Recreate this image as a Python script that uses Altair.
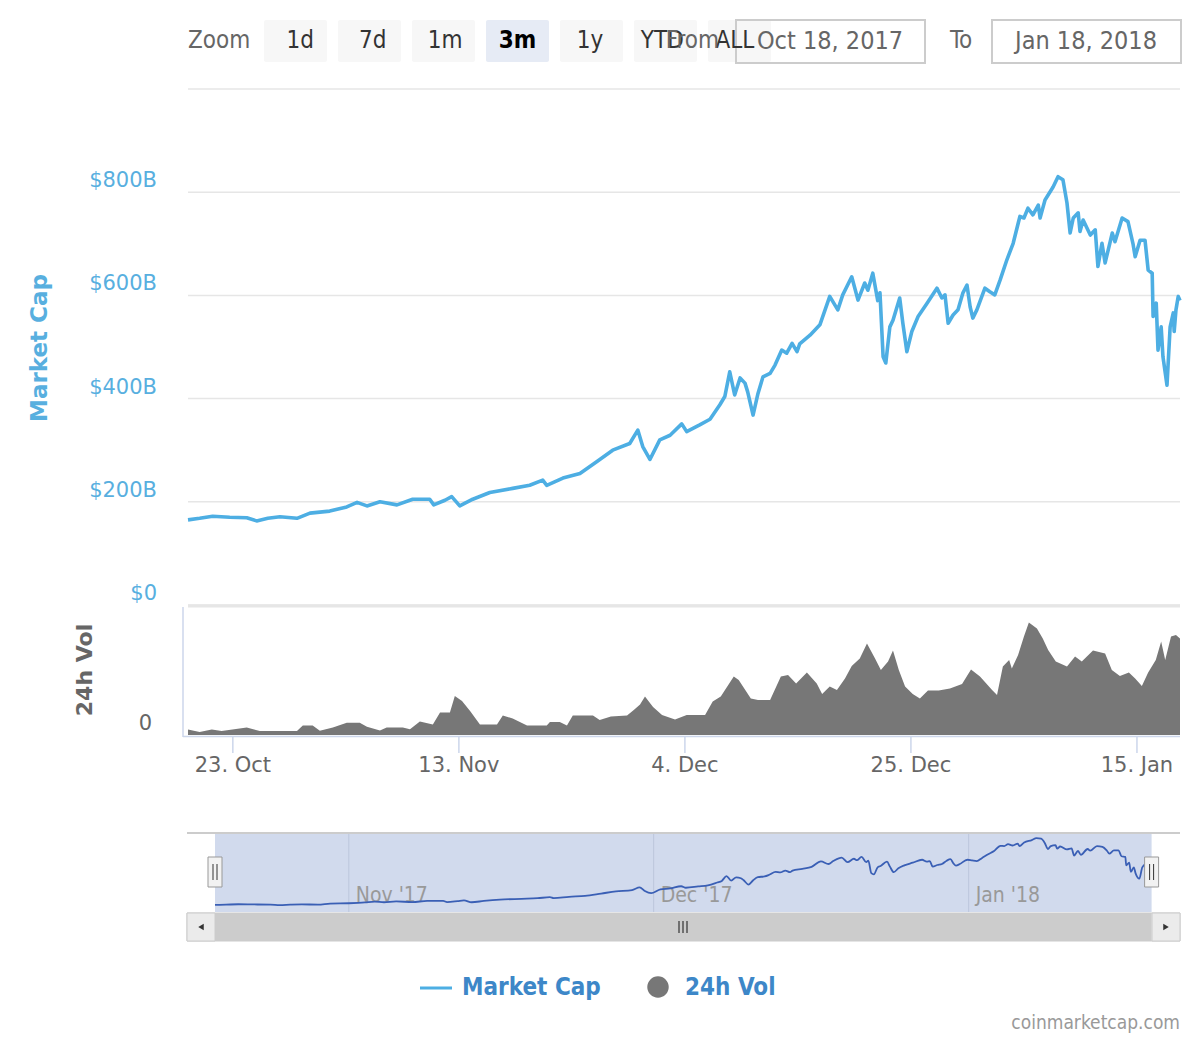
import altair as alt
import pandas as pd

# ------------------------------------------------------------------ data
MC_TIME = [
    "2017-10-18 20:00", "2017-10-19 22:00", "2017-10-21 03:00", "2017-10-22 17:00", "2017-10-24 07:00",
    "2017-10-25 05:00", "2017-10-26 06:00", "2017-10-27 09:00", "2017-10-28 23:00", "2017-10-30 04:00",
    "2017-11-01 00:00", "2017-11-02 14:00", "2017-11-03 13:00", "2017-11-04 11:00", "2017-11-05 16:00",
    "2017-11-07 06:00", "2017-11-08 17:00", "2017-11-10 07:00", "2017-11-10 16:00", "2017-11-11 17:00",
    "2017-11-12 08:00", "2017-11-13 02:00", "2017-11-14 07:00", "2017-11-15 21:00", "2017-11-18 00:00",
    "2017-11-19 14:00", "2017-11-20 19:00", "2017-11-21 04:00", "2017-11-22 16:00", "2017-11-24 06:00",
    "2017-11-25 20:00", "2017-11-27 07:00", "2017-11-28 21:00", "2017-11-29 15:00", "2017-11-30 02:00",
    "2017-11-30 18:00", "2017-12-01 16:00", "2017-12-02 15:00", "2017-12-03 17:00", "2017-12-04 04:00",
    "2017-12-05 09:00", "2017-12-06 08:00", "2017-12-07 06:00", "2017-12-07 17:00", "2017-12-08 04:00",
    "2017-12-08 15:00", "2017-12-09 03:00", "2017-12-09 14:00", "2017-12-09 20:00", "2017-12-10 08:00",
    "2017-12-10 19:00", "2017-12-11 06:00", "2017-12-11 22:00", "2017-12-12 09:00", "2017-12-13 00:00",
    "2017-12-13 11:00", "2017-12-13 23:00", "2017-12-14 10:00", "2017-12-14 16:00", "2017-12-15 15:00",
    "2017-12-16 13:00", "2017-12-17 11:00", "2017-12-18 05:00", "2017-12-18 16:00", "2017-12-19 12:00",
    "2017-12-20 02:00", "2017-12-20 17:00", "2017-12-21 00:00", "2017-12-21 11:00", "2017-12-21 22:00",
    "2017-12-22 03:00", "2017-12-22 10:00", "2017-12-22 16:00", "2017-12-23 01:00", "2017-12-23 08:00",
    "2017-12-23 23:00", "2017-12-24 06:00", "2017-12-24 15:00", "2017-12-25 02:00", "2017-12-25 16:00",
    "2017-12-26 12:00", "2017-12-27 10:00", "2017-12-27 21:00", "2017-12-28 04:00", "2017-12-28 11:00",
    "2017-12-28 22:00", "2017-12-29 09:00", "2017-12-29 20:00", "2017-12-30 05:00", "2017-12-30 12:00",
    "2017-12-30 18:00", "2017-12-31 03:00", "2017-12-31 21:00", "2018-01-01 08:00", "2018-01-01 19:00",
    "2018-01-02 07:00", "2018-01-02 22:00", "2018-01-03 12:00", "2018-01-04 03:00", "2018-01-04 12:00",
    "2018-01-04 21:00", "2018-01-05 08:00", "2018-01-05 20:00", "2018-01-06 00:00", "2018-01-06 11:00",
    "2018-01-07 05:00", "2018-01-07 16:00", "2018-01-08 03:00", "2018-01-08 12:00", "2018-01-08 19:00",
    "2018-01-09 02:00", "2018-01-09 13:00", "2018-01-09 17:00", "2018-01-10 00:00", "2018-01-10 16:00",
    "2018-01-11 03:00", "2018-01-11 09:00", "2018-01-11 18:00", "2018-01-12 01:00", "2018-01-12 17:00",
    "2018-01-12 23:00", "2018-01-13 15:00", "2018-01-14 04:00", "2018-01-14 15:00", "2018-01-14 20:00",
    "2018-01-15 07:00", "2018-01-15 18:00", "2018-01-16 01:00", "2018-01-16 10:00", "2018-01-16 12:00",
    "2018-01-16 19:00", "2018-01-16 23:00", "2018-01-17 06:00", "2018-01-17 10:00", "2018-01-17 19:00",
    "2018-01-18 02:00", "2018-01-18 09:00", "2018-01-18 11:00", "2018-01-18 15:00", "2018-01-18 20:00",
    "2018-01-19 00:00",
]
MC_VALUE = [  # market cap, billions USD
    165, 168, 172, 170, 169, 163, 168, 171, 168, 178,
    182, 190, 199, 192, 200, 194, 205, 205, 194, 203,
    210, 192, 205, 218, 226, 232, 242, 232, 246, 255,
    278, 300, 313, 339, 307, 282, 320, 329, 351, 336,
    349, 360, 388, 404, 452, 407, 440, 430, 413, 368,
    410, 442, 449, 465, 494, 488, 507, 491, 506, 523,
    543, 598, 572, 601, 636, 591, 624, 610, 643, 590,
    605, 481, 469, 539, 552, 595, 546, 491, 530, 559,
    585, 614, 595, 601, 546, 562, 572, 605, 620, 578,
    556, 572, 614, 607, 601, 630, 669, 701, 753, 750,
    769, 756, 775, 750, 785, 810, 830, 824, 779, 721,
    750, 760, 724, 746, 717, 727, 656, 701, 663, 721,
    704, 750, 743, 701, 675, 707, 707, 649, 643, 559,
    585, 494, 539, 481, 426, 539, 566, 530, 572, 598,
    590,
]

VOL_TIME = [
    "2017-10-18 20:00", "2017-10-19 22:00", "2017-10-21 01:00", "2017-10-21 23:00", "2017-10-24 07:00",
    "2017-10-25 12:00", "2017-10-28 23:00", "2017-10-29 12:00", "2017-10-30 10:00", "2017-10-31 02:00",
    "2017-11-01 07:00", "2017-11-02 14:00", "2017-11-03 19:00", "2017-11-04 11:00", "2017-11-05 16:00",
    "2017-11-06 07:00", "2017-11-07 19:00", "2017-11-08 11:00", "2017-11-09 09:00", "2017-11-10 14:00",
    "2017-11-11 06:00", "2017-11-12 04:00", "2017-11-12 15:00", "2017-11-13 07:00", "2017-11-14 01:00",
    "2017-11-14 23:00", "2017-11-16 13:00", "2017-11-17 02:00", "2017-11-18 00:00", "2017-11-19 08:00",
    "2017-11-21 04:00", "2017-11-21 11:00", "2017-11-22 09:00", "2017-11-23 01:00", "2017-11-23 14:00",
    "2017-11-25 11:00", "2017-11-26 02:00", "2017-11-27 03:00", "2017-11-28 15:00", "2017-11-29 06:00",
    "2017-11-29 20:00", "2017-11-30 07:00", "2017-12-01 01:00", "2017-12-01 21:00", "2017-12-03 02:00",
    "2017-12-04 04:00", "2017-12-05 21:00", "2017-12-06 14:00", "2017-12-07 08:00", "2017-12-08 13:00",
    "2017-12-09 00:00", "2017-12-10 03:00", "2017-12-10 19:00", "2017-12-11 22:00", "2017-12-12 22:00",
    "2017-12-13 14:00", "2017-12-14 08:00", "2017-12-15 08:00", "2017-12-16 06:00", "2017-12-16 18:00",
    "2017-12-17 11:00", "2017-12-18 03:00", "2017-12-18 21:00", "2017-12-19 12:00", "2017-12-20 06:00",
    "2017-12-20 22:00", "2017-12-21 16:00", "2017-12-22 05:00", "2017-12-22 21:00", "2017-12-23 08:00",
    "2017-12-23 21:00", "2017-12-24 11:00", "2017-12-25 04:00", "2017-12-25 20:00", "2017-12-26 14:00",
    "2017-12-27 14:00", "2017-12-28 15:00", "2017-12-29 18:00", "2017-12-30 14:00", "2017-12-31 10:00",
    "2018-01-01 13:00", "2018-01-02 00:00", "2018-01-02 13:00", "2018-01-03 03:00", "2018-01-03 09:00",
    "2018-01-03 23:00", "2018-01-04 12:00", "2018-01-04 23:00", "2018-01-05 17:00", "2018-01-06 06:00",
    "2018-01-06 18:00", "2018-01-07 11:00", "2018-01-08 12:00", "2018-01-09 06:00", "2018-01-09 21:00",
    "2018-01-10 22:00", "2018-01-12 01:00", "2018-01-12 16:00", "2018-01-13 10:00", "2018-01-14 06:00",
    "2018-01-14 20:00", "2018-01-15 11:00", "2018-01-16 01:00", "2018-01-16 18:00", "2018-01-17 06:00",
    "2018-01-17 15:00", "2018-01-18 04:00", "2018-01-18 15:00", "2018-01-19 00:00",
]
VOL_VALUE = [  # 24h volume, billions USD
    2.8, 1.5, 2.8, 2.0, 3.7, 2.0, 2.0, 4.8, 4.8, 2.1,
    3.7, 6.1, 6.1, 4.1, 2.2, 3.7, 3.7, 2.9, 6.7, 5.3,
    11.3, 11.3, 19.5, 17.0, 12.0, 5.3, 5.3, 9.8, 8.2, 4.8,
    4.8, 6.5, 6.5, 4.8, 9.8, 9.8, 7.5, 9.2, 9.8, 12.5,
    15.3, 19.3, 14.0, 10.0, 7.8, 10.0, 10.0, 16.7, 19.2, 29.2,
    27.5, 18.3, 17.5, 17.5, 29.2, 30.0, 25.8, 31.2, 25.8, 20.5,
    24.2, 22.5, 28.3, 34.5, 38.3, 45.8, 38.3, 32.5, 36.7, 42.2,
    32.5, 24.2, 20.5, 18.3, 22.2, 22.2, 23.3, 25.5, 32.8, 29.2,
    22.5, 20.0, 34.2, 37.5, 33.3, 40.0, 49.2, 56.2, 53.3, 48.3,
    42.5, 36.7, 34.2, 39.2, 36.7, 42.2, 40.8, 32.5, 29.5, 31.2,
    28.3, 24.5, 31.2, 37.5, 46.7, 37.5, 49.2, 50.0, 48.3,
]

GRID_VALUES = [0, 200, 400, 600, 800, 1000]
Y_TICKS = [0, 200, 400, 600, 800]
Y_TICK_LABELS = ["$0", "$200B", "$400B", "$600B", "$800B"]
X_TICKS = ["2017-10-23 00:00", "2017-11-13 00:00", "2017-12-04 00:00", "2017-12-25 00:00", "2018-01-15 00:00"]
X_TICK_LABELS = ["23. Oct", "13. Nov", "4. Dec", "25. Dec", "15. Jan"]
NAV_TICKS = ["2017-11-01 00:00", "2017-12-01 00:00", "2018-01-01 00:00"]
NAV_TICK_LABELS = ["Nov '17", "Dec '17", "Jan '18"]
BUTTONS = ["1d", "7d", "1m", "3m", "1y", "YTD", "ALL"]
SELECTED = "3m"
RANGE_FROM = "Oct 18, 2017"
RANGE_TO = "Jan 18, 2018"
SERIES = ["Market Cap", "24h Vol"]
X_START = "2017-10-18 20:00"
X_END = "2018-01-19 00:00"
CREDIT = "coinmarketcap.com"

# ------------------------------------------------------------------ helpers
def ms(seq):
    s = pd.to_datetime(pd.Series(seq))
    return ((s - pd.Timestamp("1970-01-01")) // pd.Timedelta(milliseconds=1)).astype("int64").tolist()

T0, T1 = ms([X_START, X_END])

mc = pd.DataFrame({"t": ms(MC_TIME), "v": MC_VALUE})
vol = pd.DataFrame({"t": ms(VOL_TIME), "v": VOL_VALUE})
grid = pd.DataFrame({"v": GRID_VALUES})
ylab = pd.DataFrame({"v": Y_TICKS, "lab": Y_TICK_LABELS})
xt = pd.DataFrame({"t": ms(X_TICKS), "lab": X_TICK_LABELS})
nt = pd.DataFrame({"t": ms(NAV_TICKS), "lab": NAV_TICK_LABELS})
rng = pd.DataFrame({"t0": [T0], "t1": [T1]})
ends = pd.DataFrame({"t": [T0, T1]})
btn = pd.DataFrame({"lab": BUTTONS, "sel": [1 if b == SELECTED else 0 for b in BUTTONS]})

BLUE = "#4daee3"
BLUE_LBL = "#58afdf"
LEG_BLUE = "#3d87c8"
GREY_TXT = "#666666"
F_LBL = "DejaVu Sans, Verdana, sans-serif"
F_COND = "DejaVu Sans Condensed, Liberation Sans Narrow, Roboto Condensed, Roboto, sans-serif"

X_MAIN = alt.Scale(domain=[T0, T1], range=[180, 1172], nice=False, zero=False)
Y_MAIN = alt.Scale(domain=[0, 1000], range=[597, 81], nice=False, zero=False)
Y_VOL = alt.Scale(domain=[0, 64], range=[727, 599], nice=False, zero=False)
X_NAV = alt.Scale(domain=[T0, T1], range=[207, 1143.6], nice=False, zero=False)
Y_NAV = alt.Scale(domain=[95, 880], range=[904, 825], nice=False, zero=False)


def one(text=""):
    return pd.DataFrame({"t": [text]})


def label(text, x, y, size, color, align="left", weight="normal", font=F_COND, angle=0):
    return alt.Chart(one(text)).mark_text(
        align=align, baseline="middle", fontSize=size, fontWeight=weight,
        font=font, color=color, angle=angle,
    ).encode(x=alt.value(x), y=alt.value(y), text="t:N")


def box(x, x2, y, y2, fill, stroke=None, sw=1, fo=1.0, r=0):
    kw = dict(fill=fill, fillOpacity=fo, cornerRadius=r)
    if stroke:
        kw.update(stroke=stroke, strokeWidth=sw)
    return alt.Chart(one()).mark_rect(**kw).encode(
        x=alt.value(x), x2=alt.value(x2), y=alt.value(y), y2=alt.value(y2))


def hline(x, x2, y, color, sw=1):
    return alt.Chart(one()).mark_rule(color=color, strokeWidth=sw).encode(
        x=alt.value(x), x2=alt.value(x2), y=alt.value(y))


def vline(x, y, y2, color, sw=1):
    return alt.Chart(one()).mark_rule(color=color, strokeWidth=sw).encode(
        x=alt.value(x), y=alt.value(y), y2=alt.value(y2))


layers = []

# ------------------------------------------------------------------ toolbar
layers.append(label("Zoom", 180, 33, 24, GREY_TXT))
BTN_X = alt.Scale(domain=BUTTONS, range=[256, 763], paddingInner=0.1486, paddingOuter=0)
layers.append(
    alt.Chart(btn).mark_rect(cornerRadius=2).encode(
        x=alt.X("lab:N", scale=BTN_X, axis=None),
        y=alt.value(12), y2=alt.value(54),
        color=alt.condition("datum.sel == 1", alt.value("#e6ebf5"), alt.value("#f7f7f7")),
    )
)
layers.append(box(728, 917, 12, 55, "#ffffff", "#cccccc", 2, fo=0))
layers.append(box(984, 1173, 12, 55, "#ffffff", "#cccccc", 2, fo=0))
layers.append(
    alt.Chart(btn).transform_filter("datum.sel == 0").mark_text(
        fontSize=24, font=F_COND, color="#333333", baseline="middle"
    ).encode(x=alt.X("lab:N", scale=BTN_X, axis=None), y=alt.value(33), text="lab:N")
)
layers.append(
    alt.Chart(btn).transform_filter("datum.sel == 1").mark_text(
        fontSize=24, font=F_COND, color="#000000", fontWeight="bold", baseline="middle"
    ).encode(x=alt.X("lab:N", scale=BTN_X, axis=None), y=alt.value(33), text="lab:N")
)
layers.append(label("From", 711, 33, 24, GREY_TXT, align="right"))
layers.append(label(RANGE_FROM, 822, 33, 25, GREY_TXT, align="center"))
layers.append(label("To", 942, 33, 24, GREY_TXT))
layers.append(label(RANGE_TO, 1078, 33, 25, GREY_TXT, align="center"))

# ------------------------------------------------------------------ main panel
layers.append(
    alt.Chart(grid).mark_rule(color="#e6e6e6", strokeWidth=1.5).encode(
        y=alt.Y("v:Q", scale=Y_MAIN, axis=None), x=alt.value(180), x2=alt.value(1172))
)
layers.append(hline(180, 1172, 598, "#e6e6e6", 3))
layers.append(
    alt.Chart(ylab).mark_text(align="right", baseline="middle", fontSize=21, font=F_LBL,
                              color=BLUE_LBL, dy=-11).encode(
        y=alt.Y("v:Q", scale=Y_MAIN, axis=None), x=alt.value(149), text="lab:N")
)
layers.append(label(SERIES[0], 32, 340, 23, BLUE_LBL, align="center", weight="bold",
                    font=F_LBL, angle=270))
layers.append(
    alt.Chart(mc).mark_line(color=BLUE, strokeWidth=3.6, strokeJoin="round").encode(
        x=alt.X("t:Q", scale=X_MAIN, axis=None),
        y=alt.Y("v:Q", scale=Y_MAIN, axis=None))
)

# ------------------------------------------------------------------ volume panel
layers.append(
    alt.Chart(vol).mark_area(color="#777777", opacity=1).encode(
        x=alt.X("t:Q", scale=X_MAIN, axis=None),
        y=alt.Y("v:Q", scale=Y_VOL, axis=None))
)
layers.append(vline(175, 599, 729, "#ccd6eb", 1.5))
layers.append(hline(175, 1172, 728.5, "#ccd6eb", 1.5))
layers.append(
    alt.Chart(xt).mark_rule(color="#ccd6eb", strokeWidth=1.5).encode(
        x=alt.X("t:Q", scale=X_MAIN, axis=None), y=alt.value(729), y2=alt.value(745))
)
layers.append(
    alt.Chart(xt).mark_text(align="center", baseline="middle", fontSize=21, font=F_LBL,
                            color=GREY_TXT).encode(
        x=alt.X("t:Q", scale=X_MAIN, axis=None), y=alt.value(758), text="lab:N")
)
layers.append(
    alt.Chart(pd.DataFrame({"v": [0], "lab": ["0"]})).mark_text(
        align="right", baseline="middle", fontSize=21, font=F_LBL, color=GREY_TXT, dy=-11).encode(
        y=alt.Y("v:Q", scale=Y_VOL, axis=None), x=alt.value(144), text="lab:N")
)
layers.append(label(SERIES[1], 77, 662, 22, GREY_TXT, align="center", weight="bold",
                    font=F_LBL, angle=270))

# ------------------------------------------------------------------ navigator
layers.append(
    alt.Chart(rng).mark_rect(color="#d1daed").encode(
        x=alt.X("t0:Q", scale=X_NAV, axis=None), x2="t1:Q",
        y=alt.value(825), y2=alt.value(904))
)
layers.append(
    alt.Chart(nt).mark_rule(color="#bcc6dc", strokeWidth=1).encode(
        x=alt.X("t:Q", scale=X_NAV, axis=None), y=alt.value(825), y2=alt.value(904))
)
layers.append(
    alt.Chart(nt).mark_text(align="left", baseline="middle", fontSize=21, font=F_COND,
                            color="#999999", dx=7).encode(
        x=alt.X("t:Q", scale=X_NAV, axis=None), y=alt.value(888), text="lab:N")
)
layers.append(
    alt.Chart(mc).mark_line(color="#3a5fb5", strokeWidth=1.8, interpolate="monotone").encode(
        x=alt.X("t:Q", scale=X_NAV, axis=None),
        y=alt.Y("v:Q", scale=Y_NAV, axis=None))
)
layers.append(hline(179, 1172, 825, "#cccccc", 2))

# scrollbar
layers.append(box(179, 1172, 905, 933, "#f2f2f2", "#cccccc", 1))
layers.append(
    alt.Chart(rng).mark_rect(color="#cccccc").encode(
        x=alt.X("t0:Q", scale=X_NAV, axis=None), x2="t1:Q",
        y=alt.value(905), y2=alt.value(933))
)
layers.append(box(179, 207, 905, 933, "#ebebeb", "#cccccc", 1))
layers.append(box(1144, 1172, 905, 933, "#ebebeb", "#cccccc", 1))
layers.append(
    alt.Chart(one()).mark_point(shape="triangle-left", filled=True, size=40, color="#333333",
                                opacity=1).encode(x=alt.value(193), y=alt.value(919)))
layers.append(
    alt.Chart(one()).mark_point(shape="triangle-right", filled=True, size=40, color="#333333",
                                opacity=1).encode(x=alt.value(1158), y=alt.value(919)))
for gx in (671, 675, 679):
    layers.append(vline(gx, 913, 925, "#333333", 1.2))

# handles
layers.append(
    alt.Chart(ends).mark_rect(fill="#f2f2f2", stroke="#999999", strokeWidth=1,
                              xOffset=-7, x2Offset=7).encode(
        x=alt.X("t:Q", scale=X_NAV, axis=None), x2="t:Q",
        y=alt.value(849), y2=alt.value(879))
)
for off in (-2, 2):
    layers.append(
        alt.Chart(ends).mark_rule(color="#333333", strokeWidth=1, xOffset=off).encode(
            x=alt.X("t:Q", scale=X_NAV, axis=None), y=alt.value(856), y2=alt.value(872))
    )

# ------------------------------------------------------------------ legend + credits
layers.append(hline(412, 444, 980, BLUE, 3))
layers.append(label(SERIES[0], 454, 980, 24, LEG_BLUE, weight="bold"))
layers.append(
    alt.Chart(one()).mark_point(shape="circle", filled=True, size=460, color="#777777",
                                opacity=1).encode(x=alt.value(650), y=alt.value(979)))
layers.append(label(SERIES[1], 677, 980, 24, LEG_BLUE, weight="bold"))
layers.append(label(CREDIT, 1172, 1015, 19, "#999999", align="right"))

chart = alt.layer(*layers).resolve_scale(x="independent", y="independent").properties(
    width=1184, height=1030, padding=0, autosize=alt.AutoSizeParams(type="none")
).configure_view(stroke=None)

chart.save("out.html", embed_options={"renderer": "svg", "actions": False})
